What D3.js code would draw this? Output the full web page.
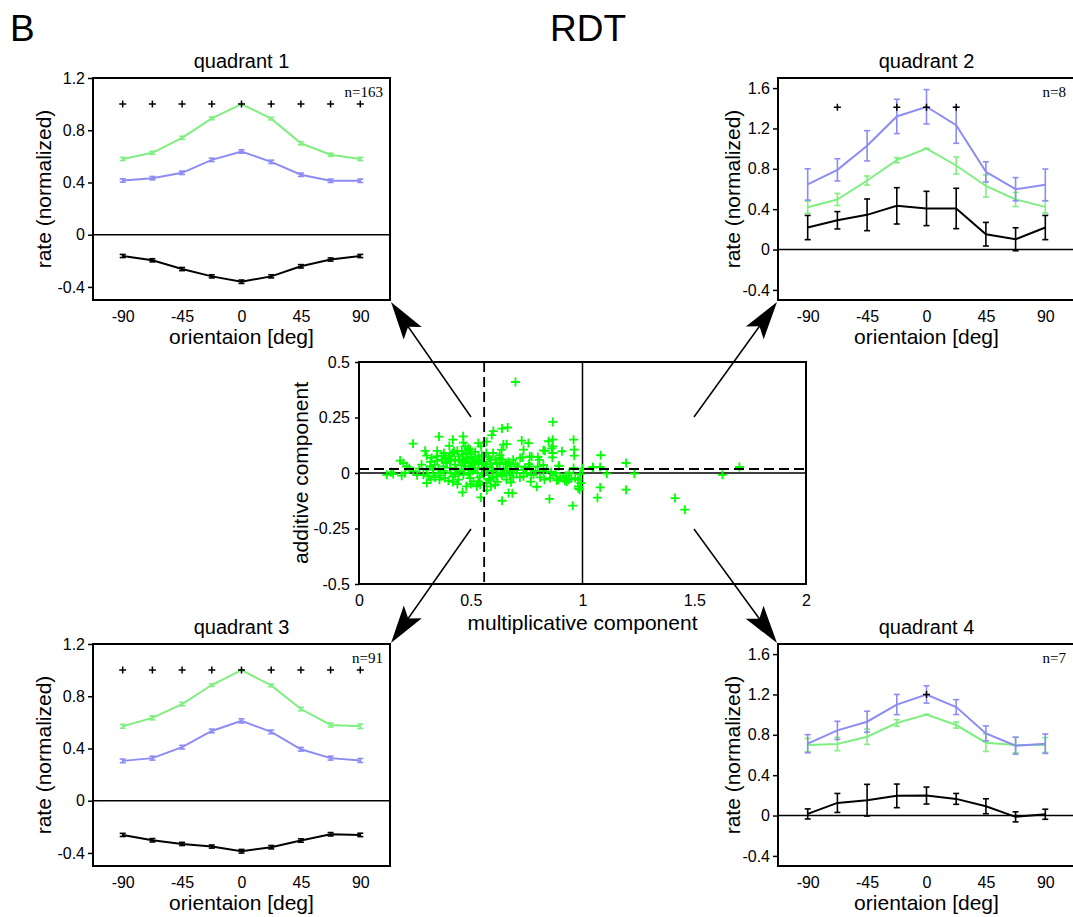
<!DOCTYPE html>
<html><head><meta charset="utf-8">
<script src="https://cdn.jsdelivr.net/npm/d3@7"></script>
<style>
body{margin:0;background:#fff;}
svg{display:block;}
text{fill:#000;}
</style>
</head><body>
<svg id="chart" width="1073" height="917"></svg>
<script>
// ---------------- DATA ----------------
const orientations = [-90, -67.5, -45, -22.5, 0, 22.5, 45, 67.5, 90];
const orientationTicks = [-90, -45, 0, 45, 90];
const rateTicksLow = [-0.4, 0, 0.4, 0.8, 1.2];
const rateTicksHigh = [-0.4, 0, 0.4, 0.8, 1.2, 1.6];

// quadrant 1 (n=163)
const q1Green = [0.58, 0.627, 0.742, 0.891, 1.0, 0.889, 0.70, 0.612, 0.58];
const q1GreenErr = [0.012, 0.012, 0.012, 0.01, 0.004, 0.01, 0.012, 0.012, 0.012];
const q1Blue = [0.415, 0.433, 0.474, 0.573, 0.637, 0.558, 0.459, 0.413, 0.413];
const q1BlueErr = [0.013, 0.013, 0.013, 0.013, 0.013, 0.013, 0.013, 0.013, 0.013];
const q1Black = [-0.163, -0.196, -0.263, -0.319, -0.36, -0.319, -0.242, -0.19, -0.163];
const q1BlackErr = [0.012, 0.012, 0.012, 0.012, 0.013, 0.012, 0.013, 0.012, 0.012];
const q1Sig = [-90, -67.5, -45, -22.5, 0, 22.5, 45, 67.5, 90];

// quadrant 2 (n=8)
const q2Green = [0.42, 0.496, 0.684, 0.886, 1.0, 0.833, 0.63, 0.496, 0.423];
const q2GreenErr = [0.06, 0.06, 0.045, 0.025, 0.004, 0.085, 0.11, 0.07, 0.06];
const q2Blue = [0.645, 0.79, 1.028, 1.319, 1.415, 1.233, 0.77, 0.598, 0.641];
const q2BlueErr = [0.155, 0.11, 0.15, 0.17, 0.17, 0.18, 0.1, 0.115, 0.157];
const q2Black = [0.218, 0.29, 0.344, 0.433, 0.407, 0.407, 0.152, 0.102, 0.218];
const q2BlackErr = [0.12, 0.086, 0.157, 0.18, 0.17, 0.2, 0.117, 0.114, 0.12];
const q2Sig = [-67.5, -22.5, 0, 22.5];

// quadrant 3 (n=91)
const q3Green = [0.57, 0.634, 0.74, 0.886, 1.0, 0.883, 0.702, 0.58, 0.57];
const q3GreenErr = [0.015, 0.015, 0.013, 0.01, 0.004, 0.01, 0.013, 0.015, 0.017];
const q3Blue = [0.305, 0.326, 0.41, 0.534, 0.611, 0.527, 0.394, 0.326, 0.308];
const q3BlueErr = [0.014, 0.015, 0.014, 0.014, 0.016, 0.014, 0.014, 0.015, 0.015];
const q3Black = [-0.262, -0.303, -0.331, -0.351, -0.387, -0.356, -0.305, -0.257, -0.262];
const q3BlackErr = [0.012, 0.013, 0.012, 0.012, 0.014, 0.013, 0.013, 0.013, 0.013];
const q3Sig = [-90, -67.5, -45, -22.5, 0, 22.5, 45, 67.5, 90];

// quadrant 4 (n=7)
const q4Green = [0.699, 0.709, 0.781, 0.917, 1.0, 0.897, 0.722, 0.699, 0.699];
const q4GreenErr = [0.066, 0.066, 0.076, 0.033, 0.004, 0.03, 0.087, 0.077, 0.074];
const q4Blue = [0.712, 0.844, 0.93, 1.10, 1.2, 1.075, 0.814, 0.692, 0.712];
const q4BlueErr = [0.09, 0.09, 0.104, 0.1, 0.086, 0.074, 0.074, 0.084, 0.096];
const q4Black = [0.016, 0.125, 0.152, 0.195, 0.198, 0.165, 0.092, -0.013, 0.013];
const q4BlackErr = [0.05, 0.094, 0.157, 0.117, 0.084, 0.054, 0.074, 0.05, 0.05];
const q4Sig = [0];

// central scatter: [multiplicative, additive]
const scatterPoints = [
 [0.70,0.41],[0.867,0.23],[1.702,0.027],[1.626,-0.008],[1.414,-0.113],[1.458,-0.165],
 [1.195,0.045],[1.195,-0.075],[1.232,-0.003],[1.109,-0.003],[1.082,0.08],[1.079,-0.065],
 [1.067,-0.111],[1.046,0.027],[1.079,0.027],[1.0,0.02],[1.048,0.024],
 [0.867,0.15],[0.867,0.12],[0.867,0.09],[0.908,0.098],[0.96,0.15],[0.963,0.105],[0.963,0.078],
 [0.96,0.023],[0.893,0.033],[0.956,-0.147],[0.987,-0.075],[0.982,-0.06],[0.993,-0.045],
 [0.915,-0.023],[0.937,-0.03],[0.885,-0.033],[0.855,-0.023],[0.852,-0.117],[0.927,-0.012],
 [0.967,-0.023],[0.865,0.07],[0.896,0.032],[0.892,-0.032],[0.929,-0.039],[0.981,-0.069],
 [0.87,-0.01],[0.90,-0.02],[0.92,-0.035],[0.95,-0.025],[0.98,-0.03],[0.86,0.005],[0.88,0.0],
 [0.94,0.0],[0.99,-0.005],
 [0.728,0.146],[0.758,0.135],[0.736,0.105],[0.825,0.102],[0.764,0.075],[0.848,0.143],
 [0.862,0.111],[0.832,0.1],[0.732,0.07],[0.773,0.073],[0.807,0.059],[0.825,0.036],
 [0.765,0.029],[0.735,0.014],[0.705,0.014],[0.795,-0.062],[0.768,-0.039],[0.736,-0.015],
 [0.781,-0.008],[0.825,0.008],[0.743,0.023],[0.721,0.068],[0.8,0.072],[0.706,0.0],
 [0.72,-0.02],[0.75,0.0],[0.79,0.01],[0.81,-0.02],[0.84,0.015],[0.77,-0.01],[0.83,-0.03],
 [0.71,0.03],[0.76,0.04],[0.8,0.03],
 [0.601,0.189],[0.594,0.171],[0.64,0.2],[0.665,0.205],[0.546,0.12],[0.534,0.135],
 [0.646,0.128],[0.66,0.13],[0.638,0.104],[0.571,0.141],[0.587,0.06],[0.616,0.045],
 [0.628,0.068],[0.66,0.045],[0.587,-0.027],[0.616,-0.003],[0.646,0.015],[0.676,0.03],
 [0.609,-0.053],[0.572,-0.078],[0.64,-0.125],[0.669,-0.09],[0.686,-0.091],[0.68,-0.042],
 [0.545,-0.11],[0.542,-0.053],[0.527,-0.06],[0.534,-0.038],
 [0.56,0.05],[0.57,0.03],[0.58,0.07],[0.59,0.04],[0.6,0.01],[0.61,0.06],[0.62,0.02],
 [0.63,0.04],[0.64,0.06],[0.65,0.0],[0.66,0.02],[0.67,0.05],[0.68,0.01],[0.69,-0.02],
 [0.7,0.04],[0.56,-0.01],[0.58,-0.03],[0.6,-0.02],[0.62,-0.04],[0.64,-0.01],[0.66,-0.03],
 [0.55,0.08],[0.57,0.09],[0.6,0.09],[0.63,0.08],[0.555,0.0],[0.575,0.01],[0.595,0.02],
 [0.615,-0.015],[0.635,0.0],[0.655,0.04],[0.675,-0.01],[0.69,0.06],[0.59,-0.06],[0.57,-0.045],
 [0.242,0.132],[0.358,0.164],[0.466,0.165],[0.42,0.15],[0.467,0.137],[0.489,0.111],
 [0.404,0.122],[0.475,0.12],[0.497,0.105],[0.296,0.10],[0.303,0.078],[0.325,0.068],
 [0.348,0.075],[0.37,0.078],[0.388,0.068],[0.407,0.078],[0.425,0.098],[0.445,0.075],
 [0.464,0.083],[0.482,0.068],[0.504,0.072],[0.52,0.06],[0.534,0.075],[0.184,0.056],
 [0.199,0.045],[0.213,0.03],[0.225,0.021],[0.124,-0.008],[0.143,0.003],[0.153,-0.005],
 [0.191,-0.012],[0.206,0.0],[0.243,0.008],[0.28,0.038],[0.303,0.015],[0.318,0.03],
 [0.34,0.038],[0.355,0.015],[0.378,0.03],[0.393,0.045],[0.407,0.023],[0.43,0.038],
 [0.437,0.015],[0.46,0.048],[0.475,0.03],[0.49,0.045],[0.504,0.023],[0.52,0.038],
 [0.534,0.045],[0.549,0.023],[0.288,-0.008],[0.31,-0.015],[0.333,-0.003],[0.363,-0.012],
 [0.385,-0.023],[0.4,-0.035],[0.422,-0.015],[0.445,-0.03],[0.467,-0.008],[0.497,-0.023],
 [0.512,-0.038],[0.303,-0.045],[0.463,-0.087],[0.527,-0.059],
 [0.32,0.05],[0.35,0.055],[0.37,0.06],[0.39,0.05],[0.41,0.06],[0.43,0.055],[0.45,0.06],
 [0.47,0.055],[0.49,0.06],[0.51,0.05],[0.53,0.06],[0.36,0.0],[0.38,0.01],[0.41,0.0],
 [0.43,-0.005],[0.45,0.005],[0.47,0.015],[0.49,0.0],[0.51,0.01],[0.53,0.0],[0.54,-0.02],
 [0.42,0.09],[0.44,0.1],[0.46,0.1],[0.38,0.09],[0.5,0.085],[0.52,0.095],[0.48,0.09],
 [0.35,0.1],[0.33,0.02],[0.27,0.02],[0.26,-0.01],[0.44,-0.05],[0.48,-0.06],[0.5,-0.05],
 [0.42,-0.04],[0.36,-0.03],[0.34,-0.02],[0.32,-0.03],[0.5,0.03],[0.52,0.02],[0.4,0.065],
 [0.46,0.035],[0.54,0.06],[0.55,0.04]
];
const scatterXTicks = [0, 0.5, 1, 1.5, 2];
const scatterYTicks = [-0.5, -0.25, 0, 0.25, 0.5];
const meanMultiplicative = 0.56;
const meanAdditive = 0.018;

// ---------------- DRAWING ----------------
const SANS = '"Liberation Sans",Arial,Helvetica,sans-serif';
const SERIF = '"Liberation Serif","Times New Roman",serif';
const GREEN = "#80ee80", BLUE = "#8c8cf4", BLACK = "#000";
const svg = d3.select("#chart").style("font-family", SANS);

function label(parent, fs) {
  return parent.append("text").style("font-family", SANS).attr("font-size", fs).attr("fill", "#000");
}

label(svg, 37).attr("x", 10).attr("y", 41).text("B");
label(svg, 37).attr("x", 550).attr("y", 41).text("RDT");

function styleAxis(sel, fs) {
  sel.select(".domain").remove();
  sel.selectAll(".tick line").attr("stroke", "#000").attr("stroke-width", 1.5);
  sel.selectAll(".tick text").attr("font-size", fs).attr("fill", "#000").style("font-family", SANS);
}

function drawRatePanel(p) {
  const W = 297, H = 222;
  const g = svg.append("g");
  const x = d3.scaleLinear().domain([-112.5, 112.5]).range([p.left, p.left + W]);
  const y = d3.scaleLinear().domain(p.yDomain).range([p.top + H, p.top]);

  g.append("line").attr("x1", p.left).attr("x2", p.left + W)
    .attr("y1", y(0)).attr("y2", y(0)).attr("stroke", "#000").attr("stroke-width", 1.5);

  p.series.forEach(s => {
    const pts = orientations.map((o, i) => ({o, v: s.values[i], e: s.err[i]}));
    g.append("path").datum(pts)
      .attr("d", d3.line().x(d => x(d.o)).y(d => y(d.v)))
      .attr("fill", "none").attr("stroke", s.color).attr("stroke-width", 2);
    const eb = g.append("g").attr("stroke", s.color).attr("stroke-width", 1.6);
    pts.forEach(d => {
      const y1 = y(d.v - d.e), y2 = y(d.v + d.e);
      eb.append("line").attr("x1", x(d.o)).attr("x2", x(d.o)).attr("y1", y1).attr("y2", y2);
      eb.append("line").attr("x1", x(d.o) - 3).attr("x2", x(d.o) + 3).attr("y1", y1).attr("y2", y1);
      eb.append("line").attr("x1", x(d.o) - 3).attr("x2", x(d.o) + 3).attr("y1", y2).attr("y2", y2);
    });
  });

  g.append("g").selectAll("path").data(p.sig).join("path")
    .attr("d", d => `M${x(d) - 3.5},${y(p.sigLevel)}H${x(d) + 3.5}M${x(d)},${y(p.sigLevel) - 3.5}V${y(p.sigLevel) + 3.5}`)
    .attr("stroke", "#000").attr("stroke-width", 1.5);

  g.append("rect").attr("x", p.left).attr("y", p.top).attr("width", W).attr("height", H)
    .attr("fill", "none").attr("stroke", "#000").attr("stroke-width", 2);

  g.append("g").attr("transform", `translate(${p.left},0)`)
    .call(d3.axisLeft(y).tickValues(p.yTicks).tickSize(5).tickPadding(3).tickFormat(d => String(d)))
    .call(a => styleAxis(a, 16));
  g.append("g").attr("transform", `translate(0,${p.top + H})`)
    .call(d3.axisBottom(x).tickValues(orientationTicks).tickSize(0).tickPadding(11).tickFormat(d => String(d)))
    .call(a => styleAxis(a, 16));

  label(g, 20).attr("x", x(0)).attr("y", p.top - 10).attr("text-anchor", "middle").text(p.title);
  label(g, 21).attr("x", x(0)).attr("y", p.top + H + 44).attr("text-anchor", "middle").text("orientaion [deg]");
  label(g, 21).attr("transform", `translate(${p.left + p.labelOff},${p.top + H / 2}) rotate(-90)`)
    .attr("text-anchor", "middle").text("rate (normalized)");
  g.append("text").attr("x", Math.min(p.left + W - 7, 1066)).attr("y", p.top + 19)
    .attr("text-anchor", "end").attr("font-size", 15).attr("fill", "#000")
    .style("font-family", SERIF).text(p.n);
}

const lowDomain = [-0.5, 1.2], highDomain = [-0.5, 1.7];
drawRatePanel({left: 93, top: 78, yDomain: lowDomain, yTicks: rateTicksLow, title: "quadrant 1", n: "n=163",
  labelOff: -42, sig: q1Sig, sigLevel: 1.0,
  series: [{values: q1Green, err: q1GreenErr, color: GREEN}, {values: q1Blue, err: q1BlueErr, color: BLUE},
           {values: q1Black, err: q1BlackErr, color: BLACK}]});
drawRatePanel({left: 778, top: 78, yDomain: highDomain, yTicks: rateTicksHigh, title: "quadrant 2", n: "n=8",
  labelOff: -38, sig: q2Sig, sigLevel: 1.41,
  series: [{values: q2Green, err: q2GreenErr, color: GREEN}, {values: q2Blue, err: q2BlueErr, color: BLUE},
           {values: q2Black, err: q2BlackErr, color: BLACK}]});
drawRatePanel({left: 93, top: 644, yDomain: lowDomain, yTicks: rateTicksLow, title: "quadrant 3", n: "n=91",
  labelOff: -42, sig: q3Sig, sigLevel: 1.0,
  series: [{values: q3Green, err: q3GreenErr, color: GREEN}, {values: q3Blue, err: q3BlueErr, color: BLUE},
           {values: q3Black, err: q3BlackErr, color: BLACK}]});
drawRatePanel({left: 778, top: 644, yDomain: highDomain, yTicks: rateTicksHigh, title: "quadrant 4", n: "n=7",
  labelOff: -38, sig: q4Sig, sigLevel: 1.2,
  series: [{values: q4Green, err: q4GreenErr, color: GREEN}, {values: q4Blue, err: q4BlueErr, color: BLUE},
           {values: q4Black, err: q4BlackErr, color: BLACK}]});

// central scatter
(function () {
  const L = 359, T = 362, W = 447, H = 222;
  const g = svg.append("g");
  const x = d3.scaleLinear().domain([0, 2]).range([L, L + W]);
  const y = d3.scaleLinear().domain([-0.5, 0.5]).range([T + H, T]);

  g.append("line").attr("x1", L).attr("x2", L + W).attr("y1", y(0)).attr("y2", y(0))
    .attr("stroke", "#000").attr("stroke-width", 1.5);
  g.append("line").attr("x1", x(1)).attr("x2", x(1)).attr("y1", T).attr("y2", T + H)
    .attr("stroke", "#000").attr("stroke-width", 1.5);

  g.append("g").selectAll("path").data(scatterPoints).join("path")
    .attr("d", d => `M${x(d[0]) - 4.5},${y(d[1])}H${x(d[0]) + 4.5}M${x(d[0])},${y(d[1]) - 4.5}V${y(d[1]) + 4.5}`)
    .attr("stroke", "#00ff00").attr("stroke-width", 1.8);

  g.append("line").attr("x1", L).attr("x2", L + W).attr("y1", y(meanAdditive)).attr("y2", y(meanAdditive))
    .attr("stroke", "#000").attr("stroke-width", 1.8).attr("stroke-dasharray", "10,5");
  g.append("line").attr("x1", x(meanMultiplicative)).attr("x2", x(meanMultiplicative)).attr("y1", T).attr("y2", T + H)
    .attr("stroke", "#000").attr("stroke-width", 1.8).attr("stroke-dasharray", "10,5");

  g.append("rect").attr("x", L).attr("y", T).attr("width", W).attr("height", H)
    .attr("fill", "none").attr("stroke", "#000").attr("stroke-width", 2);

  g.append("g").attr("transform", `translate(${L},0)`)
    .call(d3.axisLeft(y).tickValues(scatterYTicks).tickSize(4).tickPadding(5).tickFormat(d => String(d)))
    .call(a => styleAxis(a, 16));
  g.append("g").attr("transform", `translate(0,${T + H})`)
    .call(d3.axisBottom(x).tickValues(scatterXTicks).tickSize(0).tickPadding(11).tickFormat(d => String(d)))
    .call(a => styleAxis(a, 16));

  label(g, 21).attr("x", x(1)).attr("y", 630).attr("text-anchor", "middle").text("multiplicative component");
  label(g, 21).attr("transform", `translate(${L - 51},${T + H / 2}) rotate(-90)`)
    .attr("text-anchor", "middle").text("additive component");
})();

// arrows from the scatter to the quadrant panels
const arrows = [
  {from: [471, 417], to: [391, 302]},
  {from: [694, 417], to: [777, 302]},
  {from: [471, 529], to: [391, 643]},
  {from: [694, 529], to: [777, 643]}
];
arrows.forEach(a => {
  const [x1, y1] = a.from, [x2, y2] = a.to;
  const dx = x2 - x1, dy = y2 - y1, len = Math.hypot(dx, dy);
  const ux = dx / len, uy = dy / len, nx = -uy, ny = ux;
  const HL = 38, HW = 11, NOTCH = 30;
  svg.append("line").attr("x1", x1).attr("y1", y1).attr("x2", x2 - ux * 25).attr("y2", y2 - uy * 25)
    .attr("stroke", "#000").attr("stroke-width", 1.5);
  const p = [
    [x2, y2],
    [x2 - ux * HL + nx * HW, y2 - uy * HL + ny * HW],
    [x2 - ux * NOTCH, y2 - uy * NOTCH],
    [x2 - ux * HL - nx * HW, y2 - uy * HL - ny * HW]
  ];
  svg.append("path").attr("d", "M" + p.map(q => q.join(",")).join("L") + "Z").attr("fill", "#000");
});
</script>
</body></html>
